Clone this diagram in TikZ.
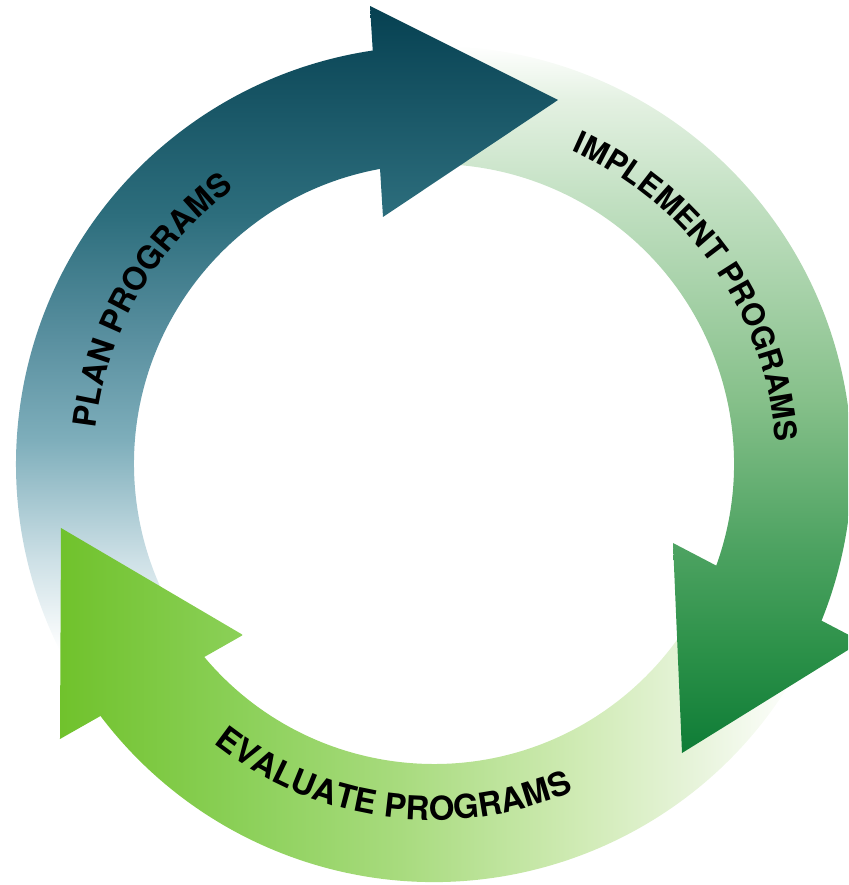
\documentclass[tikz,border=0pt]{standalone}
\usepackage{fontspec}
\newfontfamily\cyclefont{TeX Gyre Heros}
\usetikzlibrary{decorations.text}

\definecolor{plan1}{HTML}{053F50}
\definecolor{plan2}{HTML}{2D6E7D}
\definecolor{plan3}{HTML}{5A90A0}
\definecolor{plan4}{HTML}{7EAEBB}
\definecolor{plan5}{HTML}{CDE0E6}
\definecolor{impl1}{HTML}{0E7C36}
\definecolor{impl2}{HTML}{2C9149}
\definecolor{impl3}{HTML}{4EA362}
\definecolor{impl4}{HTML}{86C08A}
\definecolor{impl5}{HTML}{C2E0C2}
\definecolor{impl6}{HTML}{E4F1E2}
\definecolor{eval1}{HTML}{70C22C}
\definecolor{eval2}{HTML}{8BD058}
\definecolor{eval3}{HTML}{A8DB7E}
\definecolor{eval4}{HTML}{D0EBB5}
\definecolor{eval5}{HTML}{E8F4DC}

\pgfdeclareverticalshading{planshade}{100bp}{color(0bp)=(white); color(42.5bp)=(white); color(47bp)=(plan5); color(53bp)=(plan4); color(58bp)=(plan3); color(64.2bp)=(plan2); color(75bp)=(plan1); color(100bp)=(plan1)}
\pgfdeclareverticalshading{implshade}{100bp}{color(0bp)=(impl1); color(37.25bp)=(impl1); color(42.5bp)=(impl2); color(47.75bp)=(impl3); color(55bp)=(impl4); color(65bp)=(impl5); color(70bp)=(impl6); color(72.75bp)=(white); color(100bp)=(white)}
\pgfdeclarehorizontalshading{evalshade}{100bp}{color(0bp)=(eval1); color(28bp)=(eval1); color(37bp)=(eval2); color(45bp)=(eval3); color(54bp)=(eval4); color(60bp)=(eval5); color(65bp)=(white); color(100bp)=(white)}

\newcommand\arclabel{\cyclefont\bfseries\fontsize{31}{31}\selectfont}
\newcommand\arclabelmid{\cyclefont\bfseries\fontsize{32}{32}\selectfont}
\newcommand\arclabelbig{\cyclefont\bfseries\fontsize{33}{33}\selectfont}

\begin{document}
\begin{tikzpicture}[x=1pt,y=1pt]
   \useasboundingbox (-434,-421) rectangle (414,464);
   % bodies
   \begin{scope}
     \clip (216.2:418pt) arc[start angle=216.2, end angle=96.5, radius=418pt] -- (98.5:300pt) arc[start angle=98.5, end angle=219.1, radius=300pt] -- cycle;
     \shade[shading=planshade] (-434,464) rectangle (414,-536);
   \end{scope}
   \begin{scope}
     \clip (97.5:418pt) arc[start angle=97.5, end angle=-24, radius=418pt] -- (-21.7:300pt) arc[start angle=-21.7, end angle=99.5, radius=300pt] -- cycle;
     \shade[shading=implshade] (-434,464) rectangle (414,-536);
   \end{scope}
   \begin{scope}
     \clip (336.95:418pt) arc[start angle=336.95, end angle=215, radius=418pt] -- (218:300pt) arc[start angle=218, end angle=339.25, radius=300pt] -- cycle;
     \shade[shading=evalshade] (-434,464) rectangle (566,-421);
   \end{scope}
   % heads
   \begin{scope}
     \clip (-64,458) -- (124,364) -- (-51,247) -- cycle;
     \shade[shading=planshade] (-434,464) rectangle (414,-536);
   \end{scope}
   \begin{scope}
     \clip (427.6,-177.6) -- (248,-289) -- (239,-79) -- cycle;
     \shade[shading=implshade] (-434,464) rectangle (414,-536);
   \end{scope}
   \begin{scope}
     \clip (-374,-275) -- (-373,-64) -- (-191,-171) -- cycle;
     \shade[shading=evalshade] (-434,464) rectangle (566,-421);
   \end{scope}
   % labels
   \path[decorate, decoration={text along path, text align=center, text={|\arclabelmid|PLAN PROGRAMS}}]
     (200:340pt) arc[start angle=200, end angle=100, radius=340pt];
   \path[decorate, decoration={text along path, text align=center, text={|\arclabel|IMPLEMENT PROGRAMS}}]
     (85:342pt) arc[start angle=85, end angle=-15, radius=342pt];
   \path[decorate, decoration={text along path, text align=center, text={|\arclabelbig|EVALUATE PROGRAMS}}]
     (212.4:356pt) arc[start angle=212.4, end angle=312.4, radius=356pt];
 \end{tikzpicture}
\end{document}
